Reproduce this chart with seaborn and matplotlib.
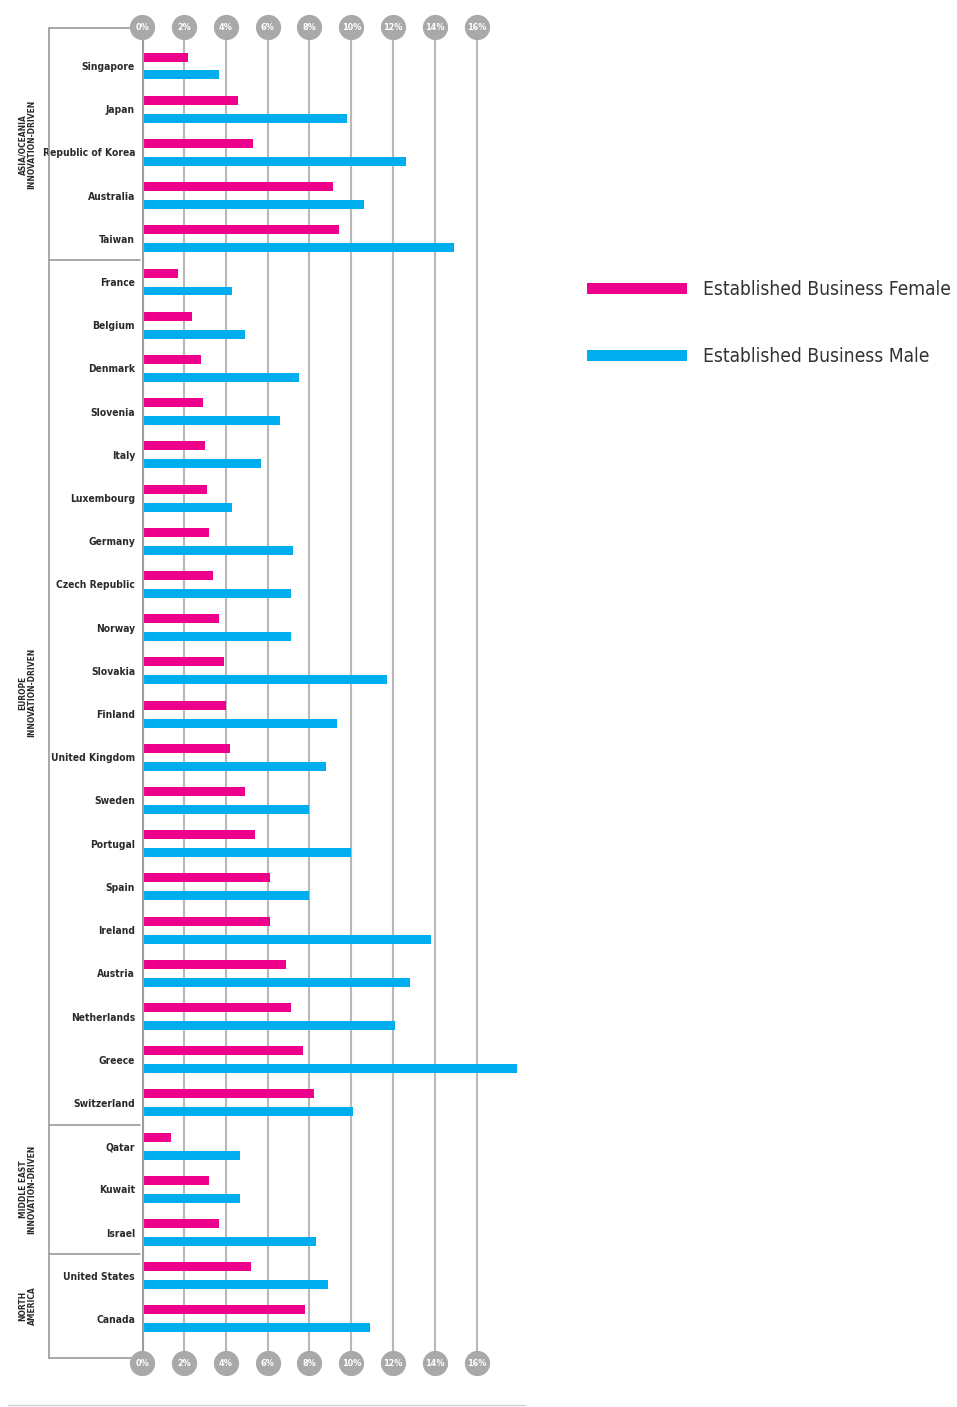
import numpy as np
import pandas as pd
import matplotlib
matplotlib.use("Agg")
import matplotlib.pyplot as plt
import matplotlib.transforms as mtransforms
from matplotlib.lines import Line2D
import seaborn as sns

# ---- data (% of adult population) ----
countries = [
    "Singapore", "Japan", "Republic of Korea", "Australia", "Taiwan",
    "France", "Belgium", "Denmark", "Slovenia", "Italy", "Luxembourg",
    "Germany", "Czech Republic", "Norway", "Slovakia", "Finland",
    "United Kingdom", "Sweden", "Portugal", "Spain", "Ireland", "Austria",
    "Netherlands", "Greece", "Switzerland",
    "Qatar", "Kuwait", "Israel",
    "United States", "Canada",
]
female = [2.2, 4.6, 5.3, 9.1, 9.4,
          1.7, 2.4, 2.8, 2.9, 3.0, 3.1, 3.2, 3.4, 3.7, 3.9, 4.0, 4.2,
          4.9, 5.4, 6.1, 6.1, 6.9, 7.1, 7.7, 8.2,
          1.4, 3.2, 3.7,
          5.2, 7.8]
male = [3.7, 9.8, 12.6, 10.6, 14.9,
        4.3, 4.9, 7.5, 6.6, 5.7, 4.3, 7.2, 7.1, 7.1, 11.7, 9.3, 8.8,
        8.0, 10.0, 8.0, 13.8, 12.8, 12.1, 17.9, 10.1,
        4.7, 4.7, 8.3,
        8.9, 10.9]
groups = ["ASIA/OCEANIA\nINNOVATION-DRIVEN", "EUROPE\nINNOVATION-DRIVEN",
          "MIDDLE EAST\nINNOVATION-DRIVEN", "NORTH\nAMERICA"]
group_sizes = [5, 20, 3, 2]
series = ["Established Business Female", "Established Business Male"]
ticks = [0, 2, 4, 6, 8, 10, 12, 14, 16]
tick_labels = [f"{t}%" for t in ticks]

PINK = "#EC008C"
BLUE = "#00AEEF"
GRID = "#b8b8b8"
DARK = "#2a2a2a"

df = pd.DataFrame({
    "country": countries * 2,
    "value": female + male,
    "series": [series[0]] * len(countries) + [series[1]] * len(countries),
})

sns.set_style("white")
plt.rcParams["font.family"] = ["DejaVu Sans"]
plt.rcParams["font.stretch"] = "condensed"

W, H = 957, 1407
fig = plt.figure(figsize=(W / 100, H / 100), dpi=100)
ax = fig.add_axes([142 / W, 1 - 1363 / H, 381 / W, (1363 - 27) / H])

sns.barplot(data=df, y="country", x="value", hue="series", orient="h",
            palette=[PINK, BLUE], saturation=1, width=0.83, gap=0.5,
            linewidth=0, ax=ax, zorder=2)

n = len(countries)
ax.set_xlim(0, 18.2)
ax.set_ylim(n + 0.02, -0.903)
ax.set_xticks(ticks)
ax.set_xticklabels([])
ax.set_xlabel("")
ax.set_ylabel("")
ax.grid(axis="x", color=GRID, lw=1.5)
ax.grid(axis="y", visible=False)
ax.set_axisbelow(True)
for s in ax.spines.values():
    s.set_visible(False)
ax.tick_params(axis="both", length=0)
ax.tick_params(axis="y", pad=5)
for lab in ax.get_yticklabels():
    lab.set_fontsize(7.4)
    lab.set_fontweight("bold")
    lab.set_fontstretch("condensed")
    lab.set_color(DARK)

# thick 0% axis line
ax.axvline(0, color="#9c9c9c", lw=3, zorder=3, ymin=0.004, ymax=0.999)

# round tick badges at top and bottom
ylo, yhi = ax.get_ylim()
for yy in (yhi, ylo):
    ax.scatter(ticks, [yy] * len(ticks), s=330, color="#a9a9a9",
               zorder=4, clip_on=False, linewidths=0)
    for t, lab in zip(ticks, tick_labels):
        ax.text(t, yy, lab, ha="center", va="center", color="white",
                fontsize=6.5, fontweight="bold", fontstretch="condensed",
                zorder=5, clip_on=False)

# group brackets and labels
trans = mtransforms.blended_transform_factory(ax.transAxes, ax.transData)
edges = [-0.88]
pos = 0
for sz in group_sizes:
    pos += sz
    edges.append(pos - 0.5)
edges[-1] = n - 0.1
bx0, bx1 = -0.244, -0.006
ax.plot([bx0, bx0], [edges[0], edges[-1]], color="#9a9a9a", lw=1.2,
        transform=trans, clip_on=False)
for e in edges:
    ax.plot([bx0, bx1 if e != edges[0] else -0.03], [e, e], color="#9a9a9a",
            lw=1.2, transform=trans, clip_on=False)
for g, a, b in zip(groups, edges[:-1], edges[1:]):
    ax.text(-0.30, (a + b) / 2, g, rotation=90, ha="center", va="center",
            fontsize=6, fontweight="bold", fontstretch="condensed",
            color=DARK, linespacing=1.0, transform=trans, clip_on=False)

# legend
fs = 13.8
sns.move_legend(ax, loc="upper left", bbox_to_anchor=(570 / W, 1 - 263 / H),
                bbox_transform=fig.transFigure, title=None, frameon=False,
                handlelength=100 / (fs * 100 / 72), handleheight=0.52,
                handletextpad=0.8, labelspacing=2.5,
                prop={"size": fs, "stretch": "condensed"})
for txt in ax.get_legend().get_texts():
    txt.set_color("#333333")

fig.add_artist(Line2D([8 / W, 525 / W], [1 - 1405 / H] * 2, color="#d0d0d0", lw=1))

fig.savefig("out.png", dpi=100)
